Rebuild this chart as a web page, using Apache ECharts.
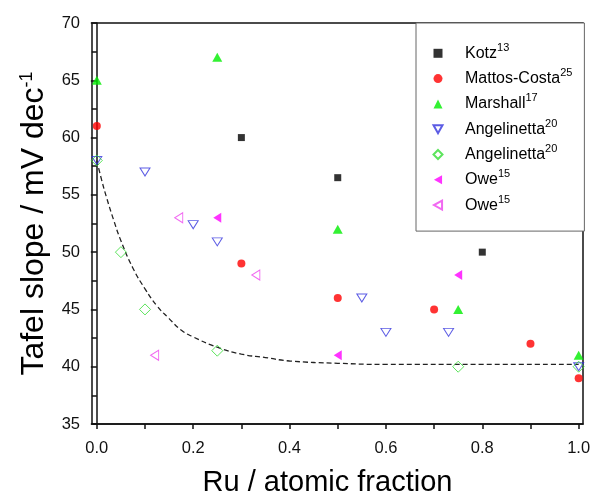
<!DOCTYPE html>
<html>
<head>
<meta charset="utf-8">
<script src="https://cdn.jsdelivr.net/npm/echarts@6/dist/echarts.min.js"></script>
<style>html,body{margin:0;padding:0;background:#fff}#c{width:595px;height:493px}</style>
</head>
<body>
<div id="c"></div>
<script>
// ---- data ----
const kotz        = [[0.3, 60], [0.5, 56.5], [0.8, 50]];
const mattosCosta = [[0, 61], [0.3, 49], [0.5, 46], [0.7, 45], [0.9, 42], [1.0, 39]];
const marshall    = [[0, 65], [0.25, 67], [0.5, 52], [0.75, 45], [1.0, 41]];
const angelinettaA = [[0, 58], [0.1, 57], [0.2, 52.4], [0.25, 50.9], [0.55, 46], [0.6, 43], [0.73, 43], [1.0, 40]];
const angelinettaB = [[0, 58], [0.05, 50], [0.1, 45], [0.25, 41.4], [0.75, 40], [1.0, 40]];
const oweA = [[0.25, 53], [0.5, 41], [0.75, 48]];
const oweB = [[0.17, 53], [0.12, 41], [0.33, 48]];
const fitCurve = [[0, 58], [0.01, 56.3], [0.02, 54.8], [0.035, 52.8], [0.05, 51.0], [0.075, 48.6], [0.1, 46.8],
  [0.125, 45.3], [0.15, 44.2], [0.175, 43.2], [0.2, 42.6], [0.25, 41.7], [0.3, 41.1], [0.35, 40.8],
  [0.4, 40.5], [0.5, 40.3], [0.6, 40.2], [0.8, 40.2], [1.0, 40.2]];
const xLabelTicks = [0, 0.2, 0.4, 0.6, 0.8, 1.0];
const xAllTicks = [0, 0.1, 0.2, 0.3, 0.4, 0.5, 0.6, 0.7, 0.8, 0.9, 1.0];
const legendNames = ['Kotz', 'Mattos-Costa', 'Marshall', 'Angelinetta A', 'Angelinetta B', 'Owe A', 'Owe B'];
const legendLabels = {
  'Kotz': ['Kotz', '13'],
  'Mattos-Costa': ['Mattos-Costa', '25'],
  'Marshall': ['Marshall', '17'],
  'Angelinetta A': ['Angelinetta', '20'],
  'Angelinetta B': ['Angelinetta', '20'],
  'Owe A': ['Owe', '15'],
  'Owe B': ['Owe', '15']
};

const FONT = '"Liberation Sans", Arial, sans-serif';
const DOWN = 'path://M0,0L10,0L5,9Z';
const LEFT = 'path://M9,0L0,5L9,10Z';
const CLEAR = 'rgba(255,255,255,0)';

const chart = echarts.init(document.getElementById('c'), null, {renderer: 'canvas'});
chart.setOption({
  animation: false,
  backgroundColor: '#fff',
  grid: {left: 92, top: 23, right: 12, bottom: 69, containLabel: false, outerBoundsMode: 'none',
    show: true, borderColor: '#111', borderWidth: 1.5, backgroundColor: 'transparent'},
  xAxis: {
    type: 'value', min: -0.01, max: 1.009,
    name: 'Ru / atomic fraction', nameLocation: 'middle', nameGap: 44,
    nameTextStyle: {fontFamily: FONT, fontSize: 29, color: '#000', padding: [0, 20, 0, 0]},
    axisLine: {show: true, lineStyle: {color: '#111', width: 1.5}},
    axisTick: {show: true, inside: false, length: 5, lineStyle: {color: '#111', width: 1.5}, customValues: xAllTicks},
    axisLabel: {fontFamily: FONT, fontSize: 16.5, color: '#111', margin: 16, customValues: xLabelTicks,
      formatter: v => v.toFixed(1)},
    splitLine: {show: false}
  },
  yAxis: {
    type: 'value', min: 35, max: 70, interval: 5,
    name: '{t|Tafel slope / mV dec}{s|-1}', nameLocation: 'middle', nameGap: 42, nameRotate: 90,
    nameTextStyle: {fontFamily: FONT, fontSize: 32, color: '#000',
      rich: {t: {fontFamily: FONT, fontSize: 32, color: '#000'},
             s: {fontFamily: FONT, fontSize: 18, color: '#000', padding: [0, 0, 14, 0]}}},
    axisLine: {show: true, lineStyle: {color: '#111', width: 1.5}},
    axisTick: {show: true, inside: false, length: 6, lineStyle: {color: '#111', width: 1.5}},
    minorTick: {show: true, splitNumber: 2, length: 5, lineStyle: {color: '#111', width: 1.5}},
    axisLabel: {fontFamily: FONT, fontSize: 16.5, color: '#111', margin: 12},
    splitLine: {show: false}, minorSplitLine: {show: false}
  },
  legend: {
    data: legendNames, orient: 'vertical', left: 416, top: 23,
    padding: [19.3, 12, 15, 16.5], itemGap: 3.3, itemWidth: 9, itemHeight: 9,
    borderColor: '#666', borderWidth: 1, backgroundColor: '#fff',
    selectedMode: false,
    formatter: n => '{a|' + legendLabels[n][0] + '}{b|' + legendLabels[n][1] + '}',
    textStyle: {fontFamily: FONT, fontSize: 16, color: '#000',
      rich: {a: {fontFamily: FONT, fontSize: 16, lineHeight: 22, color: '#000', padding: [0, 0, 0, 17.5]},
             b: {fontFamily: FONT, fontSize: 11, lineHeight: 11, color: '#000', padding: [0, 0, 11, 0]}}}
  },
  series: [
    {type: 'line', name: 'fit', data: fitCurve, smooth: true, symbol: 'none', silent: true,
      lineStyle: {color: '#222', width: 1.3, type: [5, 3]}, z: 1},
    {type: 'scatter', name: 'Kotz', data: kotz, symbol: 'rect', symbolSize: 7,
      itemStyle: {color: '#000'}},
    {type: 'scatter', name: 'Mattos-Costa', data: mattosCosta, symbol: 'circle', symbolSize: 8,
      itemStyle: {color: '#ff0000'}},
    {type: 'scatter', name: 'Marshall', data: marshall, symbol: 'triangle', symbolSize: [10, 9],
      itemStyle: {color: '#00ee00'}},
    {type: 'scatter', name: 'Angelinetta A', data: angelinettaA, symbol: DOWN, symbolSize: [10, 8],
      itemStyle: {color: CLEAR, borderColor: '#3333dd', borderWidth: 1}},
    {type: 'scatter', name: 'Angelinetta B', data: angelinettaB, symbol: 'diamond', symbolSize: [11, 11],
      itemStyle: {color: CLEAR, borderColor: '#33dd33', borderWidth: 1}},
    {type: 'scatter', name: 'Owe A', data: oweA, symbol: LEFT, symbolSize: [8, 10],
      itemStyle: {color: '#ff00ff'}},
    {type: 'scatter', name: 'Owe B', data: oweB, symbol: LEFT, symbolSize: [8, 10],
      itemStyle: {color: CLEAR, borderColor: '#ee44ee', borderWidth: 1}}
  ]
});
</script>
</body>
</html>
